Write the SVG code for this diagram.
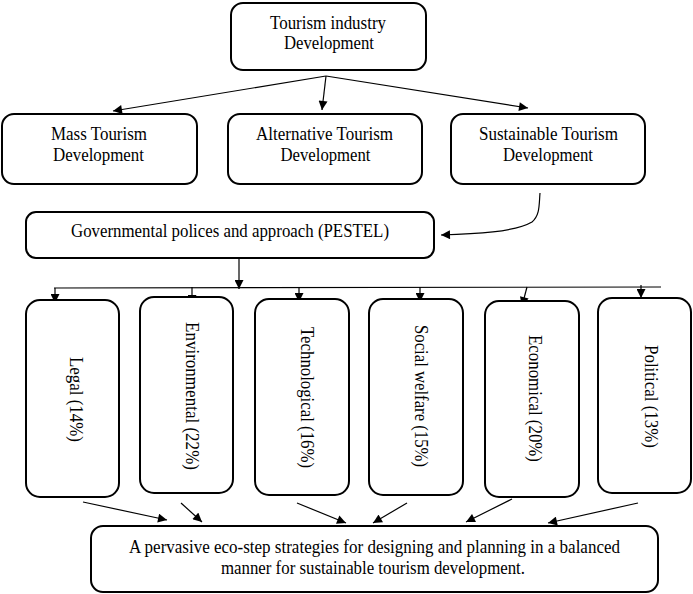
<svg xmlns="http://www.w3.org/2000/svg" width="693" height="594" viewBox="0 0 693 594">
<style>
.box{fill:#fff;stroke:#000;stroke-width:2}
.t{font-family:"Liberation Serif","Times New Roman",serif;font-size:18.5px;fill:#000;text-anchor:middle}
.c{fill:none;stroke:#000;stroke-width:1.2}
</style>
<defs>
<marker id="ah" viewBox="0 0 10 10" refX="10" refY="5" markerWidth="10" markerHeight="9" markerUnits="userSpaceOnUse" orient="auto">
<path d="M0,0 L10,5 L0,10 z" fill="#000"/>
</marker>
</defs>
<rect width="693" height="594" fill="#fff"/>
<g id="connectors">
<path class="c" d="M326,76 L113,111" marker-end="url(#ah)"/>
<path class="c" d="M326,76 L322,110" marker-end="url(#ah)"/>
<path class="c" d="M326,76 L528,108" marker-end="url(#ah)"/>
<path class="c" d="M540,193 C539,205 540,215 532,222 C515,232 475,234 441,235" marker-end="url(#ah)"/>
<path class="c" d="M239,258 L239,289" marker-end="url(#ah)"/>
<path class="c" d="M54,288 L661,287"/>
<path class="c" d="M55,288 L55,303" marker-end="url(#ah)"/>
<path class="c" d="M192,287 L192,304" marker-end="url(#ah)"/>
<path class="c" d="M299,287 L299,302" marker-end="url(#ah)"/>
<path class="c" d="M420,287 L420,302" marker-end="url(#ah)"/>
<path class="c" d="M527,287 L522,306" marker-end="url(#ah)"/>
<path class="c" d="M641,285 L641,298" marker-end="url(#ah)"/>
<path class="c" d="M83,502 L167,520" marker-end="url(#ah)"/>
<path class="c" d="M181,503 L202,522" marker-end="url(#ah)"/>
<path class="c" d="M297,503 L346,523" marker-end="url(#ah)"/>
<path class="c" d="M407,503 L373,523" marker-end="url(#ah)"/>
<path class="c" d="M512,499 L466,522" marker-end="url(#ah)"/>
<path class="c" d="M638,503 L548,523" marker-end="url(#ah)"/>
</g>
<g id="top">
<rect class="box" x="231" y="3" width="195" height="67" rx="12"/>
<text class="t" x="328" y="29" textLength="116" lengthAdjust="spacingAndGlyphs">Tourism industry</text>
<text class="t" x="329" y="49" textLength="90" lengthAdjust="spacingAndGlyphs">Development</text>
</g>
<g id="mass">
<rect class="box" x="2" y="114" width="195" height="70" rx="12"/>
<text class="t" x="99" y="140" textLength="96" lengthAdjust="spacingAndGlyphs">Mass Tourism</text>
<text class="t" x="98.5" y="161" textLength="91" lengthAdjust="spacingAndGlyphs">Development</text>
</g>
<g id="alternative">
<rect class="box" x="228" y="114" width="194" height="70" rx="12"/>
<text class="t" x="324.5" y="140" textLength="137" lengthAdjust="spacingAndGlyphs">Alternative Tourism</text>
<text class="t" x="325.5" y="161" textLength="90" lengthAdjust="spacingAndGlyphs">Development</text>
</g>
<g id="sustainable">
<rect class="box" x="451" y="114" width="194" height="70" rx="12"/>
<text class="t" x="548.5" y="140" textLength="139" lengthAdjust="spacingAndGlyphs">Sustainable Tourism</text>
<text class="t" x="548" y="161" textLength="90" lengthAdjust="spacingAndGlyphs">Development</text>
</g>
<g id="government">
<rect class="box" x="26" y="212" width="408" height="46" rx="10"/>
<text class="t" x="230" y="237" textLength="318" lengthAdjust="spacingAndGlyphs">Governmental polices and approach (PESTEL)</text>
</g>
<g id="legal">
<rect class="box" x="26" y="300" width="93" height="197" rx="14"/>
<text class="t" transform="translate(70,399.5) rotate(90)" textLength="85" lengthAdjust="spacingAndGlyphs">Legal (14%)</text>
</g>
<g id="environmental">
<rect class="box" x="140" y="297" width="93" height="196" rx="14"/>
<text class="t" transform="translate(186,396) rotate(90)" textLength="148" lengthAdjust="spacingAndGlyphs">Environmental (22%)</text>
</g>
<g id="technological">
<rect class="box" x="255" y="299" width="94" height="196" rx="14"/>
<text class="t" transform="translate(301,397.5) rotate(90)" textLength="141" lengthAdjust="spacingAndGlyphs">Technological (16%)</text>
</g>
<g id="social">
<rect class="box" x="369" y="299" width="94" height="196" rx="14"/>
<text class="t" transform="translate(415,396) rotate(90)" textLength="142" lengthAdjust="spacingAndGlyphs">Social welfare (15%)</text>
</g>
<g id="economical">
<rect class="box" x="485" y="301" width="94" height="196" rx="14"/>
<text class="t" transform="translate(529,398.5) rotate(90)" textLength="127" lengthAdjust="spacingAndGlyphs">Economical (20%)</text>
</g>
<g id="political">
<rect class="box" x="598" y="298" width="93" height="195" rx="14"/>
<text class="t" transform="translate(645,396.5) rotate(90)" textLength="103" lengthAdjust="spacingAndGlyphs">Political (13%)</text>
</g>
<g id="strategy">
<rect class="box" x="91" y="526" width="567" height="66" rx="12"/>
<text class="t" x="374.5" y="552.5" textLength="491" lengthAdjust="spacingAndGlyphs">A pervasive eco-step strategies for designing and planning in a balanced</text>
<text class="t" x="373" y="574" textLength="304" lengthAdjust="spacingAndGlyphs">manner for sustainable tourism development.</text>
</g>
</svg>
